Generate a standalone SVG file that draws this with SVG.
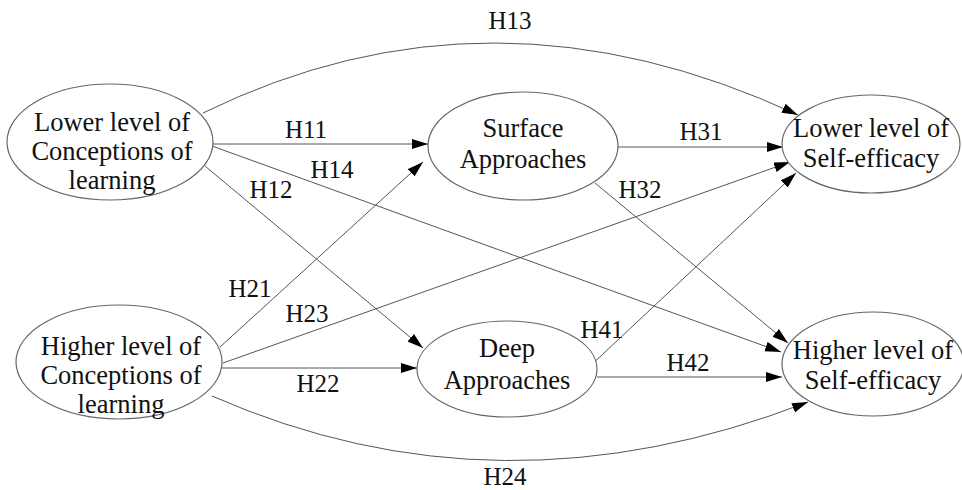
<svg xmlns="http://www.w3.org/2000/svg" width="962" height="490" viewBox="0 0 962 490">
<style>
.node{fill:#fff;stroke:#666;stroke-width:1.2}
.nt{font-family:"Liberation Serif","Times New Roman",serif;font-size:26.5px;fill:#111;text-anchor:middle}
.lb{font-family:"Liberation Serif","Times New Roman",serif;font-size:25px;fill:#111;text-anchor:middle}
.e{fill:none;stroke:#555;stroke-width:1;marker-end:url(#ah)}
</style>
<defs>
<marker id="ah" markerUnits="userSpaceOnUse" markerWidth="17" markerHeight="11" refX="16" refY="5" orient="auto" viewBox="0 0 17 11">
<path d="M0,0 L16,5 L0,10 z" fill="#000"/>
</marker>
</defs>
<rect width="962" height="490" fill="#fff"/>
<g id="connectors">
<path class="e" d="M212,144 L428,144"/>
<path class="e" d="M205,166 L423,348"/>
<path class="e" d="M212,146 L781,352"/>
<path class="e" d="M220,347 L423,162"/>
<path class="e" d="M222,368 L417,368"/>
<path class="e" d="M223,363 L790,162"/>
<path class="e" d="M618,147 L783,147"/>
<path class="e" d="M595,183 L788,343"/>
<path class="e" d="M588,368 L796,173"/>
<path class="e" d="M597,377 L782,377"/>
<path class="e" d="M203,113 Q491,-28 798,115"/>
<path class="e" d="M212,396 Q499,522 808,402"/>
</g>
<g id="labels">
<text class="lb" x="306" y="138">H11</text>
<text class="lb" x="271" y="198">H12</text>
<text class="lb" x="332" y="178">H14</text>
<text class="lb" x="510" y="29">H13</text>
<text class="lb" x="250" y="297">H21</text>
<text class="lb" x="307" y="322">H23</text>
<text class="lb" x="318" y="392">H22</text>
<text class="lb" x="505" y="485">H24</text>
<text class="lb" x="701" y="140">H31</text>
<text class="lb" x="640" y="198">H32</text>
<text class="lb" x="602" y="338">H41</text>
<text class="lb" x="688" y="371">H42</text>
</g>
<g id="lower-col">
<ellipse class="node" cx="110" cy="142" rx="103" ry="58"/>
<text class="nt" x="112" y="131">Lower level of</text>
<text class="nt" x="112" y="160">Conceptions of</text>
<text class="nt" x="112" y="189">learning</text>
</g>
<g id="higher-col">
<ellipse class="node" cx="119" cy="362" rx="103" ry="57"/>
<text class="nt" x="121" y="355">Higher level of</text>
<text class="nt" x="121" y="384">Conceptions of</text>
<text class="nt" x="121" y="413">learning</text>
</g>
<g id="surface">
<ellipse class="node" cx="523" cy="146" rx="95" ry="54"/>
<text class="nt" x="523" y="137">Surface</text>
<text class="nt" x="523" y="168">Approaches</text>
</g>
<g id="deep">
<ellipse class="node" cx="507" cy="369" rx="90" ry="48"/>
<text class="nt" x="507" y="357">Deep</text>
<text class="nt" x="507" y="389">Approaches</text>
</g>
<g id="lower-se">
<ellipse class="node" cx="871" cy="144" rx="89" ry="49"/>
<text class="nt" x="871" y="137">Lower level of</text>
<text class="nt" x="871" y="167">Self-efficacy</text>
</g>
<g id="higher-se">
<ellipse class="node" cx="873" cy="364" rx="91" ry="52"/>
<text class="nt" x="873" y="359">Higher level of</text>
<text class="nt" x="873" y="389">Self-efficacy</text>
</g>
</svg>
